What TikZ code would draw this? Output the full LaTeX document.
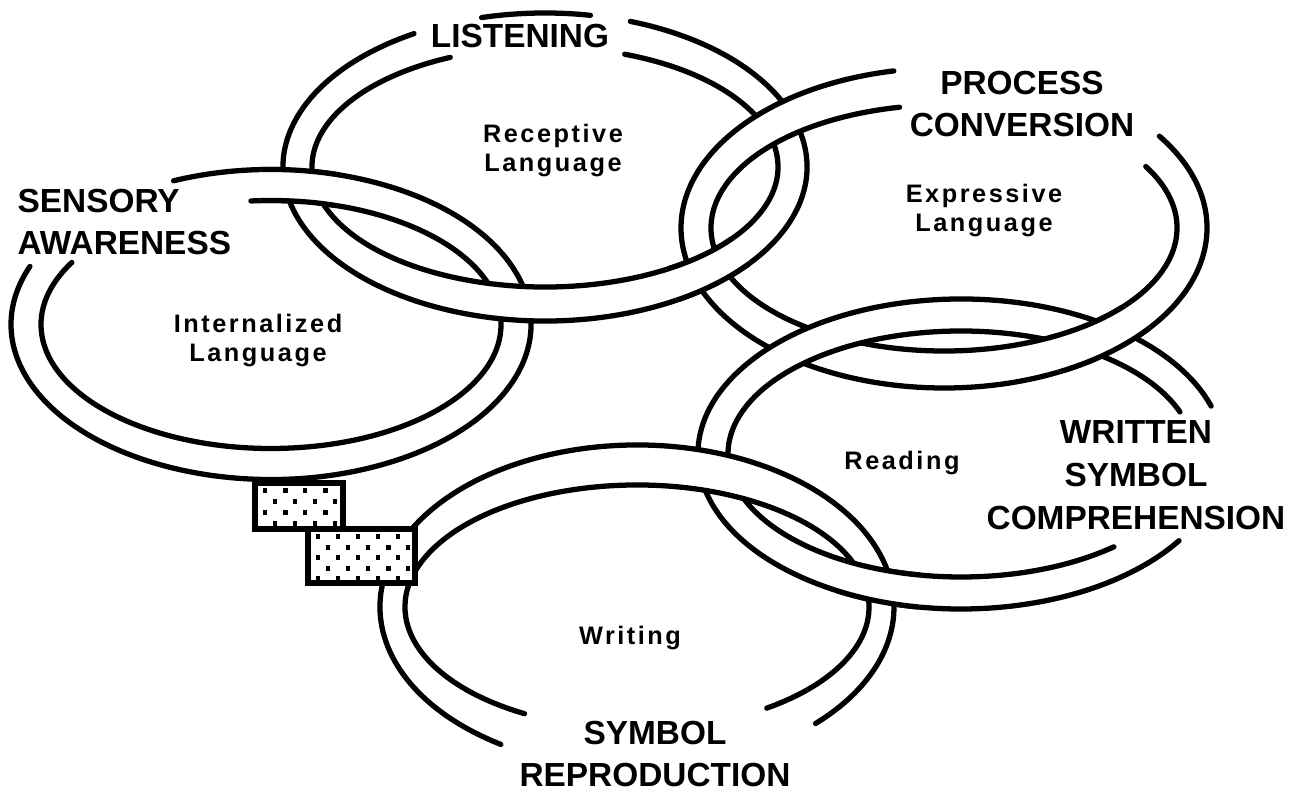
\documentclass[tikz,border=0pt]{standalone}
\usepackage{fontspec}
\setmainfont{Liberation Sans}
\newfontfamily\spacedfont[LetterSpace=10]{Liberation Sans Bold}

\tikzset{
  rim/.style={line width=1.5pt, line cap=round},
  title/.style={font=\bfseries\fontsize{9.5}{12.2}\selectfont, align=center, inner sep=0pt},
  inside/.style={font=\spacedfont\fontsize{7.2}{8.5}\selectfont, align=center, inner sep=0pt},
  clasp/.style={line width=1.5pt, fill=white},
}

% one ring: centre, outer radii, inner radii, outer arc, inner arc
\newcommand{\ringband}[9]{%
  \begin{scope}[shift={#1}]
    \fill[white] (#6:#2 and #3) arc[start angle=#6, end angle=#7, x radius=#2, y radius=#3]
      -- (#9:#4 and #5) arc[start angle=#9, end angle=#8, x radius=#4, y radius=#5] -- cycle;
    \draw[rim] (#6:#2 and #3) arc[start angle=#6, end angle=#7, x radius=#2, y radius=#3];
    \draw[rim] (#8:#4 and #5) arc[start angle=#8, end angle=#9, x radius=#4, y radius=#5];
  \end{scope}}

\newcommand{\internalring}{\ringband{(271,324.5)}{260}{155}{230}{124}{-112}{202}{-95}{210}}
\newcommand{\receptivering}{%
  \ringband{(545,167)}{262}{154}{233}{120}{-71}{240}{-70}{246}%
  \draw[rim] (545,167) ++(-104:262 and 154) arc[start angle=-104, end angle=-80, x radius=262, y radius=154];}
\newcommand{\expressivering}{\ringband{(944,228)}{263}{160}{233}{123}{-35}{259}{-30}{259}}
\newcommand{\readingring}{\ringband{(961,454)}{263}{155}{233}{123}{34}{342}{49}{340}}
\newcommand{\writingring}{\ringband{(637,607)}{257}{162}{232}{122}{122}{406}{119}{416}}

\begin{document}
\begin{tikzpicture}[x=0.1mm, y=-0.1mm]
  \fill[white] (0,0) rectangle (1305,791);
  \useasboundingbox (0,0) rectangle (1305,791);

  % rings, each one drawn over the one before
  \internalring
  \receptivering
  \expressivering
  \readingring
  \writingring

  % crossings where the earlier ring comes back on top
  \begin{scope}
    \clip (300,186) circle [radius=42];
    \internalring
  \end{scope}
  \begin{scope}
    \clip (709,273) circle [radius=42];
    \receptivering
  \end{scope}
  \begin{scope}
    \clip (1090,338) ellipse [x radius=62, y radius=38];
    \expressivering
  \end{scope}
  \begin{scope}
    \clip (879,588) circle [radius=44];
    \readingring
  \end{scope}

  % dotted clasp
  \draw[clasp] (255,483) rectangle (343,529);
  \foreach \r in {0,...,3}
    \foreach \c in {0,...,3}
      \fill ({265+20*\c+10*mod(\r,2)},{491+11*\r}) +(-2.5,-2.5) rectangle +(2.5,2.5);
  \draw[clasp] (308,529) rectangle (415,583);
  \foreach \r in {0,...,4}
    \foreach \c in {0,...,4}
      \fill ({318+20*\c+10*mod(\r,2)},{537+10.5*\r}) +(-2.5,-2.5) rectangle +(2.5,2.5);

  % labels
  \node[title, anchor=north west, align=left] (sensory) at (17,188) {SENSORY\\AWARENESS};
  \node[title] (listening) at (520,36) {LISTENING};
  \node[title, anchor=north] (process) at (1022,70) {PROCESS\\CONVERSION};
  \node[title, anchor=north] (written) at (1136,420) {WRITTEN\\SYMBOL\\COMPREHENSION};
  \node[title, anchor=north] (symbol) at (655,720) {SYMBOL\\REPRODUCTION};

  \node[inside, anchor=north] (receptive) at (553,123) {Receptive\\Language};
  \node[inside, anchor=north] (expressive) at (984,183) {Expressive\\Language};
  \node[inside, anchor=north] (internalized) at (258,313) {Internalized\\Language};
  \node[inside, anchor=north] (reading) at (902,450) {Reading};
  \node[inside, anchor=north] (writing) at (630,625) {Writing};
\end{tikzpicture}
\end{document}
